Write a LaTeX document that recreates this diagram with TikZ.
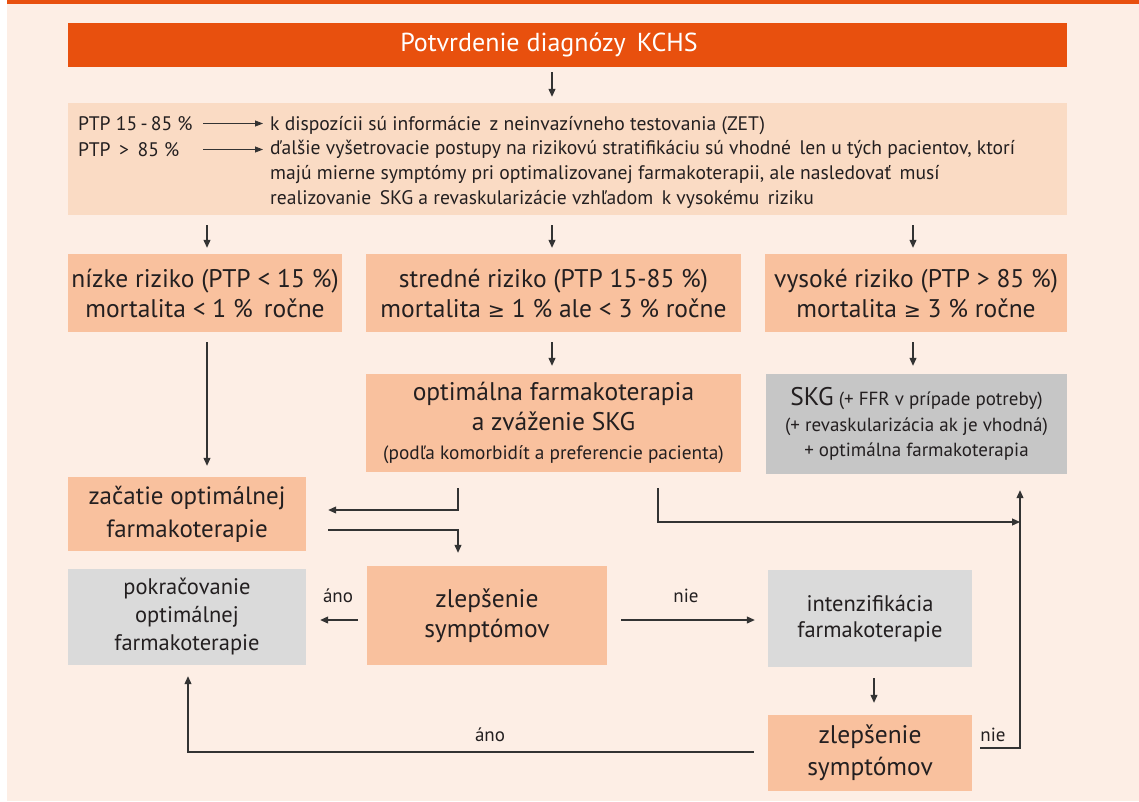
\documentclass[tikz,border=0pt]{standalone}
\usepackage{fontspec}
\setmainfont{PT Sans}
\newfontfamily\symf{DejaVu Sans}
\usetikzlibrary{arrows.meta}
\definecolor{bg}{HTML}{FDEEE5}
\definecolor{dorange}{HTML}{E8500E}
\definecolor{infoc}{HTML}{FADBC4}
\definecolor{salmon}{HTML}{F9C19E}
\definecolor{grayA}{HTML}{C6C6C6}
\definecolor{grayB}{HTML}{DADADA}
\definecolor{txt}{HTML}{231F20}
\definecolor{ln}{HTML}{333333}
\newcommand{\gq}{{\symf\fontsize{0.8em}{1em}\selectfont ≥}}
\begin{document}
\begin{tikzpicture}[x=1pt,y=-1pt,
  box/.style={rectangle, inner sep=0pt, align=center, text=txt},
  big/.style={font=\fontsize{25.5}{30}\selectfont},
  lbl/.style={inner sep=0pt, text=txt, font=\fontsize{19}{20}\selectfont},
  infotxt/.style={inner sep=0pt, text=txt, anchor=base west, font=\fontsize{19.6}{25}\selectfont, align=left},
  arr/.style={draw=ln, line width=1.1pt, -{Triangle[length=8pt,width=7pt]}},
  thinarr/.style={draw=ln, line width=0.8pt, -{Triangle[length=8pt,width=6pt]}}]
\useasboundingbox (0,0) rectangle (1139,801);
\fill[white] (0,0) rectangle (1139,801);
\fill[bg] (7,0) rectangle (1139,801);
\fill[dorange] (7,0) rectangle (1139,4);
% helper coordinates
\coordinate (x188) at (188,0);
\coordinate (x207) at (207,0);
\coordinate (x458) at (458,0);
\coordinate (x552) at (552,0);
\coordinate (x658) at (658,0);
\coordinate (x874) at (874,0);
\coordinate (x913) at (913,0);
\coordinate (x1020) at (1020,0);
\coordinate (y510) at (0,510);
\coordinate (y522) at (0,522);
\coordinate (y530) at (0,530);
\coordinate (y620) at (0,620);
\coordinate (y748) at (0,748);
\coordinate (y752) at (0,752);
% nodes
\node[box, fill=dorange, minimum width=999pt, minimum height=44pt] (title) at (567.5,45) {};
\node[box, text=white, font=\fontsize{26}{28}\selectfont] (titletxt) at (549,45) {Potvrdenie diagnózy\, KCHS};
\node[box, fill=infoc, minimum width=999pt, minimum height=112pt] (info) at (567.5,159) {};
\node[infotxt] (p1) at (78,130) {PTP 15\,-\,85 \%};
\node[infotxt] (p2) at (78,156) {PTP \,>\, 85 \%};
\node[infotxt] (t1) at (270,130) {k dispozícii sú informácie\, z neinvazívneho testovania (ZET)};
\node[infotxt, anchor=north west] (t2) at (270,139.5) {ďalšie vyšetrovacie postupy na rizikovú stratifikáciu sú vhodné\, len u tých pacientov, ktorí\\majú mierne symptómy pri optimalizovanej farmakoterapii, ale nasledovať\, musí\\realizovanie\, SKG a revaskularizácie vzhľadom\, k vysokému\, riziku};
\coordinate (a1) at (203,123.5);
\coordinate (a2) at (203,149.5);
\draw[thinarr, shorten >=7pt] (a1) -- (t1.west |- a1) ;
\draw[thinarr, shorten >=7pt] (a2) -- (t2.west |- a2);

\node[box, big, fill=salmon, minimum width=274pt, minimum height=78pt] (low) at (205,293) {nízke riziko (PTP < 15 \%)\\mortalita < 1 \%\, ročne};
\node[box, big, fill=salmon, minimum width=375pt, minimum height=78pt] (midr) at (553.5,293) {stredné riziko (PTP 15-85 \%)\\mortalita \gq\ 1 \% ale < 3 \% ročne};
\node[box, big, fill=salmon, minimum width=302pt, minimum height=78pt] (high) at (916,293) {vysoké riziko (PTP > 85 \%)\\mortalita \gq\ 3 \% ročne};

\node[box, big, fill=salmon, minimum width=375pt, minimum height=98pt] (opt) at (553.5,423) {optimálna farmakoterapia\\a zváženie SKG\\[-1pt]{\fontsize{19.3}{24}\selectfont (podľa komorbidít a preferencie pacienta)}};
\node[box, fill=grayA, minimum width=301pt, minimum height=100pt, font=\fontsize{19}{25.5}\selectfont] (skg) at (916.5,424) {{\fontsize{25.5}{26}\selectfont SKG} (+ FFR v prípade potreby)\\(+ revaskularizácia ak je vhodná)\\+ optimálna farmakoterapia};

\node[box, fill=salmon, minimum width=238pt, minimum height=74pt, font=\fontsize{25}{33}\selectfont] (zac) at (187,514) {začatie optimálnej\\farmakoterapie};
\node[box, fill=grayB, minimum width=238pt, minimum height=96pt, font=\fontsize{22.5}{28}\selectfont] (pok) at (187,617) {pokračovanie\\optimálnej\\farmakoterapie};
\node[box, big, fill=salmon, minimum width=240pt, minimum height=99pt] (zl1) at (487,615.5) {zlepšenie\\symptómov};
\node[box, fill=grayB, minimum width=204pt, minimum height=97pt, font=\fontsize{22.5}{26.5}\selectfont] (int) at (870,618.5) {intenzifikácia\\farmakoterapie};
\node[box, fill=salmon, minimum width=204pt, minimum height=76pt, font=\fontsize{25.5}{32}\selectfont] (zl2) at (870,753) {zlepšenie\\symptómov};

% labels
\node[lbl] (lano1) at (338,596) {áno};
\node[lbl] (lnie1) at (686,596) {nie};
\node[lbl] (lnie2) at (993,735) {nie};
\node[lbl] (lano2) at (490,735) {áno};

% connectors
\draw[arr, shorten <=5pt, shorten >=6pt] (title.south -| x552) -- (info.north -| x552);
\draw[arr, shorten <=10pt, shorten >=6pt] (info.south -| x207) -- (low.north -| x207);
\draw[arr, shorten <=10pt, shorten >=6pt] (info.south -| x552) -- (midr.north -| x552);
\draw[arr, shorten <=10pt, shorten >=6pt] (info.south -| x913) -- (high.north -| x913);
\draw[arr, shorten <=10pt, shorten >=11pt] (low.south -| x207) -- (zac.north -| x207);
\draw[arr, shorten <=10pt, shorten >=8pt] (midr.south -| x552) -- (opt.north -| x552);
\draw[arr, shorten <=10pt, shorten >=8pt] (high.south -| x913) -- (skg.north -| x913);
\draw[arr, shorten <=16pt, shorten >=22pt] (opt.south -| x458) |- (zac.east |- y510);
\draw[arr, shorten <=22pt, shorten >=13pt] (zac.east |- y530) -| (zl1.north -| x458);
\draw[arr, shorten <=16pt] (opt.south -| x658) |- (x1020 |- y522);
\draw[arr, shorten <=8pt, shorten >=16pt] (zl2.east |- y748) -| (skg.south -| x1020);
\draw[arr, shorten <=14pt, shorten >=13pt] (zl1.east |- y620) -- (int.west |- y620);
\draw[arr, shorten <=9pt, shorten >=14pt] (zl1.west |- y620) -- (pok.east |- y620);
\draw[arr, shorten <=11pt, shorten >=12pt] (int.south -| x874) -- (zl2.north -| x874);
\draw[arr, shorten <=14pt, shorten >=11pt] (zl2.west |- y752) -| (pok.south -| x188);
\end{tikzpicture}
\end{document}
